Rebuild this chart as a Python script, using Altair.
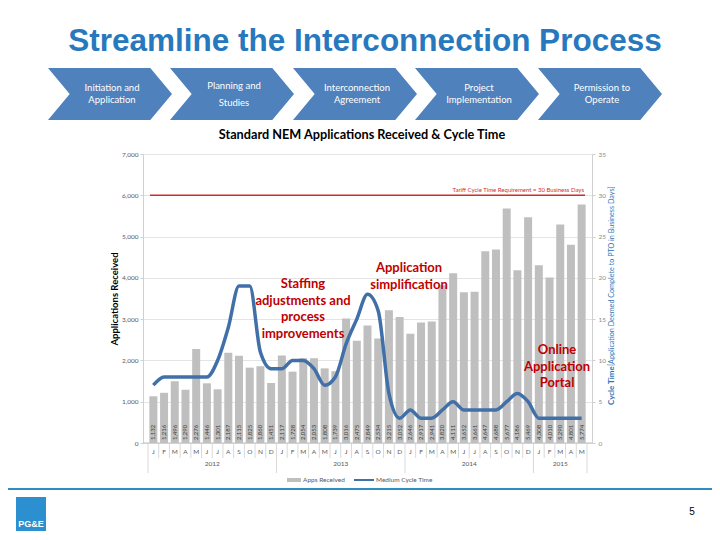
import altair as alt
import pandas as pd

# ---------------- data ----------------
years = ["2012"] * 12 + ["2013"] * 12 + ["2014"] * 12 + ["2015"] * 5
month_letters = list("JFMAMJJASOND") * 3 + list("JFMAM")
apps_received = [1132, 1216, 1496, 1290, 2276, 1446, 1301, 2187, 2115, 1825, 1860, 1451,
                 2117, 1728, 2054, 2053, 1808, 1739, 3016, 2475, 2849, 2534, 3215, 3052,
                 2646, 2917, 2941, 3820, 4111, 3652, 3661, 4647, 4688, 5677, 4186, 5469,
                 4308, 4010, 5290, 4801, 5774]
cycle_time = [7, 8, 8, 8, 8, 8, 10, 14, 19, 19, 11, 9,
              9, 10, 10, 9, 7, 8, 12, 15, 18, 16, 6, 3,
              4, 3, 3, 4, 5, 4, 4, 4, 4, 5, 6, 5,
              3, 3, 3, 3, 3]
tariff_requirement_days = 30
steps = [["Initiation and", "Application"], ["Planning and", "Studies"],
         ["Interconnection", "Agreement"], ["Project", "Implementation"],
         ["Permission to", "Operate"]]

# ---------------- frames ----------------
df = pd.DataFrame({
    "idx": list(range(len(apps_received))),
    "month": month_letters,
    "year": years,
    "apps": apps_received,
    "cycle": cycle_time,
})
df["label"] = df["apps"].map(lambda v: f"{v:,}")

bounds = pd.DataFrame({"b": [i - 0.5 for i in range(len(df) + 1)]})
year_starts = {-0.5} | {df.idx[i] - 0.5 for i in range(1, len(df)) if years[i] != years[i - 1]} | {len(df) - 0.5}
bounds["long"] = bounds["b"].isin(year_starts)
year_df = df.groupby("year", as_index=False)["idx"].mean()

one = pd.DataFrame({"k": [0]})

W, H = 449, 289
OX, OY = 143, 154  # page position of plot origin


def px(x):
    return x - OX


def py(y):
    return y - OY


XS = alt.Scale(domain=[-0.5, len(df) - 0.5], nice=False, zero=False)
YL = alt.Scale(domain=[0, 7000], nice=False)
YR = alt.Scale(domain=[0, 35], nice=False)

GRAY_TXT = "#595959"
RED = "#C00000"
FONT = "Lato"

bars = alt.Chart(df).mark_bar(size=8, color="#BFBFBF").encode(
    x=alt.X("idx:Q", scale=XS, axis=None),
    y=alt.Y("apps:Q", scale=YL, axis=alt.Axis(
        title="Applications Received", values=list(range(0, 7001, 1000)), format=",d",
        labelFontSize=6.5, labelColor=GRAY_TXT, labelFont=FONT, grid=True, gridColor="#E4E4E4",
        domainColor="#D0D0D0", tickColor="#D0D0D0", tickSize=3, labelPadding=2,
        titleFontSize=9.5, titleFontWeight="bold", titleColor="#000000", titleFont=FONT,
        titlePadding=2)),
)

bar_labels = alt.Chart(df).mark_text(angle=270, align="left", baseline="middle",
                                     fontSize=6, color="#404040", font=FONT).encode(
    x=alt.X("idx:Q", scale=XS, axis=None),
    y=alt.value(H - 3),
    text="label:N",
)

line = alt.Chart(df).mark_line(color="#4170A8", strokeWidth=3.5, interpolate="monotone").encode(
    x=alt.X("idx:Q", scale=XS, axis=None),
    y=alt.Y("cycle:Q", scale=YR, axis=alt.Axis(
        orient="right", title=None, values=list(range(0, 36, 5)), labelFontSize=6.5,
        labelColor="#8C8C8C", labelFont=FONT, grid=False, domainColor="#D0D0D0",
        tickColor="#D0D0D0", tickSize=3, labelPadding=3)),
)

target = alt.Chart(one).mark_rule(color="#D42A2A", strokeWidth=1.5).encode(
    x=alt.value(7), x2=alt.value(W - 7),
    y=alt.YDatum(tariff_requirement_days, scale=YR, axis=None),
)
target_txt = alt.Chart(one).mark_text(
    text=f"Tariff Cycle Time Requirement = {tariff_requirement_days} Business Days",
    align="right", baseline="bottom", dy=-2, fontSize=6, color="#D42A2A", font=FONT).encode(
    x=alt.value(W - 8),
    y=alt.YDatum(tariff_requirement_days, scale=YR, axis=None),
)

x_line = alt.Chart(one).mark_rule(color="#BFBFBF", strokeWidth=1).encode(
    x=alt.value(0), x2=alt.value(W), y=alt.value(H))

seps_short = alt.Chart(bounds).transform_filter("!datum.long").mark_rule(
    color="#CFCFCF", strokeWidth=0.8).encode(
    x=alt.X("b:Q", scale=XS, axis=None), y=alt.value(H), y2=alt.value(H + 15))
seps_long = alt.Chart(bounds).transform_filter("datum.long").mark_rule(
    color="#CFCFCF", strokeWidth=0.8).encode(
    x=alt.X("b:Q", scale=XS, axis=None), y=alt.value(H), y2=alt.value(H + 30))

month_txt = alt.Chart(df).mark_text(fontSize=6.5, color=GRAY_TXT, font=FONT, baseline="middle").encode(
    x=alt.X("idx:Q", scale=XS, axis=None), y=alt.value(H + 9), text="month:N")
year_txt = alt.Chart(year_df).mark_text(fontSize=6.5, color=GRAY_TXT, font=FONT, baseline="middle").encode(
    x=alt.X("idx:Q", scale=XS, axis=None), y=alt.value(H + 21), text="year:N")

layers = [bars, bar_labels, x_line, seps_short, seps_long, month_txt, year_txt,
          target, target_txt, line]


def txt(text, x, y, **kw):
    return alt.Chart(one).mark_text(text=text, **kw).encode(x=alt.value(x), y=alt.value(y))


# right axis title (mixed bold / regular)
layers.append(txt("Cycle Time", px(612), py(405), angle=270, align="left", baseline="middle",
                  fontSize=8, fontWeight="bold", color="#2E75B6", font=FONT))
layers.append(txt("[Application Deemed Complete to PTO in Business Days]", px(612), py(366),
                  angle=270, align="left", baseline="middle", fontSize=7.2, color="#2E75B6", font=FONT))

# legend
layers.append(alt.Chart(one).mark_rule(color="#BFBFBF", strokeWidth=4).encode(
    x=alt.value(px(287)), x2=alt.value(px(301)), y=alt.value(py(480))))
layers.append(txt("Apps Received", px(303), py(480), align="left", baseline="middle",
                  fontSize=6.5, color=GRAY_TXT, font=FONT))
layers.append(alt.Chart(one).mark_rule(color="#4170A8", strokeWidth=2).encode(
    x=alt.value(px(354)), x2=alt.value(px(374)), y=alt.value(py(480))))
layers.append(txt("Medium Cycle Time", px(376), py(480), align="left", baseline="middle",
                  fontSize=6.5, color=GRAY_TXT, font=FONT))

# annotations (y = first line)
ann = dict(align="center", baseline="middle", fontSize=13, fontWeight="bold", color=RED,
           font=FONT, lineHeight=16.7)
layers.append(txt(["Staffing", "adjustments and", "process", "improvements"], px(303), py(284), **ann))
layers.append(txt(["Application", "simplification"], px(409), py(268), **ann))
layers.append(txt(["Online", "Application", "Portal"], px(557), py(350), **ann))

# chart subtitle
layers.append(txt("Standard NEM Applications Received & Cycle Time", px(362), py(135),
                  align="center", baseline="middle", fontSize=12.7, fontWeight="bold",
                  color="#000000", font=FONT))

# slide title
layers.append(txt("Streamline the Interconnection Process", px(365), py(42), align="center",
                  baseline="middle", fontSize=31.5, fontWeight="bold", color="#2878BE",
                  font="Liberation Sans"))

# chevrons
CHEV = "M -1 -0.42 L 0.65 -0.42 L 1 0 L 0.65 0.42 L -1 0.42 L -0.65 0 Z"
chev_x = [110, 232, 355, 477, 600]
for i, (cx, lab) in enumerate(zip(chev_x, steps)):
    layers.append(alt.Chart(one).mark_point(shape=CHEV, filled=True, size=124 ** 2, color="#4F81BD",
                                            opacity=1, strokeWidth=0).encode(
        x=alt.value(px(cx)), y=alt.value(py(94))))
    layers.append(txt(lab, px(cx + 2), py(86 if i == 1 else 88), align="center", baseline="middle",
                      fontSize=9.5, color="#FFFFFF", font=FONT, lineHeight=17 if i == 1 else 12))

# bottom band line, logo, page number
layers.append(alt.Chart(one).mark_rule(color="#2F8DBF", strokeWidth=2).encode(
    x=alt.value(px(8)), x2=alt.value(px(712)), y=alt.value(py(489))))
layers.append(alt.Chart(one).mark_rect(color="#2B8FD0").encode(
    x=alt.value(px(16)), x2=alt.value(px(46)), y=alt.value(py(497)), y2=alt.value(py(531))))
layers.append(txt("PG&E", px(31), py(524), align="center", baseline="middle", fontSize=9,
                  fontWeight="bold", color="#FFFFFF", font="Liberation Sans"))
layers.append(txt("5", px(692), py(512), align="center", baseline="middle", fontSize=10,
                  color="#000000", font="Liberation Sans"))

chart = alt.layer(*layers).resolve_scale(y="independent").properties(
    width=W, height=H,
    autosize=alt.AutoSizeParams(type="none"),
    padding={"left": OX - 8, "top": OY - 8, "right": 712 - OX - W, "bottom": 531 - OY - H},
    background="#FFFFFF",
).configure_view(stroke="transparent")

chart.save("out.html", embed_options={"renderer": "svg", "actions": False})
